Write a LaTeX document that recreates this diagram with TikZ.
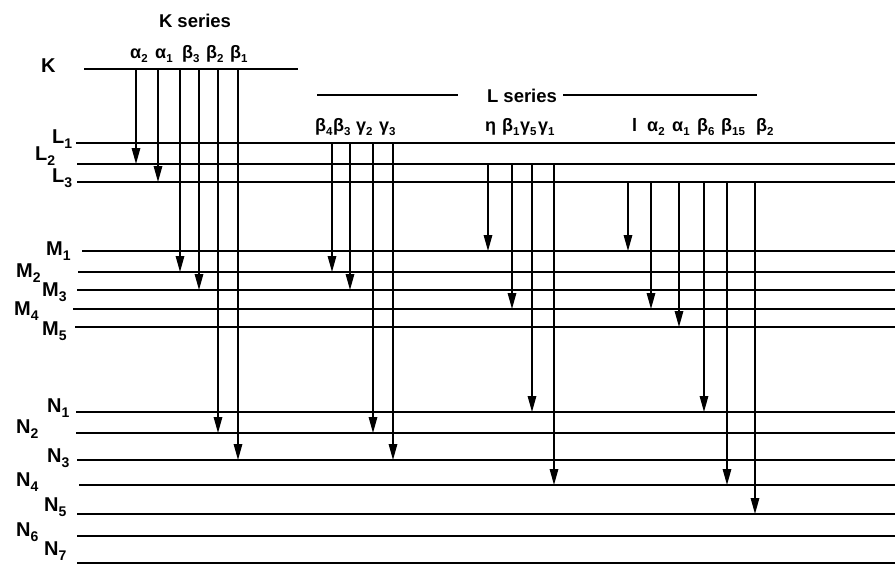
\documentclass[tikz,border=0pt]{standalone}
\usepackage{fontspec}
\setmainfont{Liberation Sans}
\usetikzlibrary{arrows.meta}
\newcommand{\sbs}[1]{\raisebox{-4pt}{\fontsize{11.5}{12}\selectfont #1}}
\newcommand{\lsbs}[1]{\raisebox{-5pt}{\fontsize{14}{14}\selectfont #1}}

\begin{document}
\begin{tikzpicture}[x=1pt, y=-1pt,
  level/.style={line width=1.7pt},
  trans/.style={line width=1.5pt, -{Triangle[length=16pt,width=8.5pt]}},
  lbl/.style={anchor=base west, inner sep=0pt, font=\fontsize{18}{20}\selectfont\bfseries},
  lvl/.style={lbl, font=\fontsize{20}{22}\selectfont\bfseries}]
\useasboundingbox (0,0) rectangle (895,565);

% energy levels
\draw[level] (84,69) coordinate (K) -- (298,69);
\foreach \n/\y/\xs in {L1/143/76, L2/164/77, L3/182/77, M1/251/82, M2/272/78,
    M3/290/77, M4/309/73, M5/327/75, N1/412/76, N2/433/76, N3/460/77,
    N4/485/79, N5/514/77, N6/536/77, N7/563/77}
  \draw[level] (\xs,\y) coordinate (\n) -- (895,\y);

% level names
\node[lvl] (tK) at (41,72) {K};
\foreach \t/\s/\x/\y in {L/1/52/143, L/2/35/160, L/3/52/182, M/1/46/255,
    M/2/16/277, M/3/42/296, M/4/14/315, M/5/42/335, N/1/47/412, N/2/16/433,
    N/3/47/462, N/4/16/486, N/5/44/511, N/6/16/536, N/7/44/555}
  \node[lvl] (t\t\s) at (\x,\y) {\t\lsbs{\s}};

% series titles
\node[lbl, anchor=base, font=\fontsize{18.5}{20}\selectfont\bfseries] (kser) at (195,27) {K series};
\node[lbl, anchor=base, font=\fontsize{18.5}{20}\selectfont\bfseries] (lser) at (522,102) {L series};
\draw[level] (317,95) -- (458,95);
\draw[level] (563,95) -- (757,95);

% line names
\foreach \t/\s/\x [count=\i] in {α/2/130, α/1/155, β/3/182, β/2/206, β/1/230}
  \node[lbl] (k\i) at (\x,58) {\t\sbs{\s}};
\foreach \t/\s/\x [count=\i] in {β/4/315, β/3/333, γ/2/356, γ/3/379,
    β/1/502, γ/5/520, γ/1/538, α/2/647, α/1/672, β/6/697, β/15/721, β/2/756}
  \node[lbl] (l\i) at (\x,131) {\t\sbs{\s}};
\node[lbl] (leta) at (485,131) {η};
\node[lbl] (lell) at (632,131) {l};

% transitions
\foreach \px/\up/\dn in {136/K/L2, 158/K/L3, 180/K/M2, 199/K/M3, 218/K/N2,
    238/K/N3, 332/L1/M2, 350/L1/M3, 373/L1/N2, 393/L1/N3, 488/L2/M1,
    512/L2/M4, 532/L2/N1, 554/L2/N4, 628/L3/M1, 651/L3/M4, 679/L3/M5,
    704/L3/N1, 727/L3/N4, 755/L3/N5}
  \draw[trans] (\px,0 |- \up) -- (\px,0 |- \dn);
\end{tikzpicture}
\end{document}
